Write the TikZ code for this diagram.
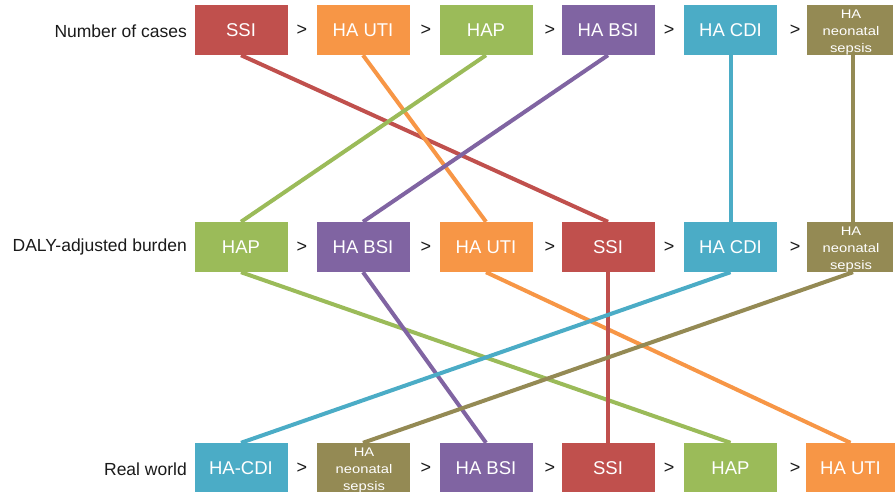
\documentclass[tikz,border=0pt]{standalone}
\usepackage{fontspec}
\setmainfont{Liberation Sans}
\newfontfamily\widesmall[FakeStretch=1.18]{Liberation Sans}
\definecolor{cSSI}{HTML}{C0504D}
\definecolor{cUTI}{HTML}{F79646}
\definecolor{cHAP}{HTML}{9BBB59}
\definecolor{cBSI}{HTML}{8064A2}
\definecolor{cCDI}{HTML}{4BACC6}
\definecolor{cNEO}{HTML}{948A54}
\definecolor{labtxt}{HTML}{1A1A1A}
\tikzset{
  box/.style={rectangle, minimum width=93pt, minimum height=50pt, inner sep=0pt,
    text=white, font=\fontsize{18.5}{22}\selectfont},
  lastbox/.style={box, minimum width=86pt},
  neo/.style={font=\widesmall\fontsize{12.5}{17}\selectfont, align=center},
  gt/.style={inner sep=0pt, text=labtxt, font=\fontsize{18}{20}\selectfont},
  rowlab/.style={anchor=east, inner sep=0pt, text=labtxt, font=\fontsize{17.5}{20}\selectfont},
  conn/.style={line width=4pt}
}
\begin{document}
\begin{tikzpicture}[x=1pt,y=-1pt]
\useasboundingbox (0,0) rectangle (895,492);
% row labels
\node[rowlab] (l1) at (187,31) {Number of cases};
\node[rowlab] (l2) at (187,247) {DALY-adjusted burden};
\node[rowlab] (l3) at (187,469) {Real world};
% row 1
\node[box, fill=cSSI] (a1) at (241,30) {SSI};
\node[box, fill=cUTI] (a2) at (363,30) {HA UTI};
\node[box, fill=cHAP] (a3) at (486,30) {HAP};
\node[box, fill=cBSI] (a4) at (608,30) {HA BSI};
\node[box, fill=cCDI] (a5) at (730.5,30) {HA CDI};
\node[lastbox, fill=cNEO] (a6) at (850,30) {};
\node[neo, text=white] (a6t) at (851,32) {HA\\neonatal\\sepsis};
% row 2
\node[box, fill=cHAP] (b1) at (241,247) {HAP};
\node[box, fill=cBSI] (b2) at (363,247) {HA BSI};
\node[box, fill=cUTI] (b3) at (486,247) {HA UTI};
\node[box, fill=cSSI] (b4) at (608,247) {SSI};
\node[box, fill=cCDI] (b5) at (730.5,247) {HA CDI};
\node[lastbox, fill=cNEO] (b6) at (850,247) {};
\node[neo, text=white] (b6t) at (851,249) {HA\\neonatal\\sepsis};
% row 3
\node[box, fill=cCDI] (c1) at (241,468) {HA-CDI};
\node[box, fill=cNEO] (c2) at (363,468) {};
\node[neo, text=white] (c2t) at (364,470) {HA\\neonatal\\sepsis};
\node[box, fill=cBSI] (c3) at (486,468) {HA BSI};
\node[box, fill=cSSI] (c4) at (608,468) {SSI};
\node[box, fill=cHAP] (c5) at (730.5,468) {HAP};
\node[box, fill=cUTI, minimum width=89pt] (c6) at (850.5,468) {HA UTI};
% greater-than signs
\foreach \r/\y in {1/30, 2/247, 3/468}{
  \node[gt] (g\r a) at (302,\y) {>};
  \node[gt] (g\r b) at (426,\y) {>};
  \node[gt] (g\r c) at (550,\y) {>};
  \node[gt] (g\r d) at (669,\y) {>};
  \node[gt] (g\r e) at (795,\y) {>};
}
% connectors row1 -> row2
\draw[conn, cSSI] (a1.south) -- (b4.north);
\draw[conn, cUTI] (a2.south) -- (b3.north);
\draw[conn, cHAP] (a3.south) -- (b1.north);
\draw[conn, cBSI] (a4.south) -- (b2.north);
\draw[conn, cCDI] (a5.south) -- (b5.north);
\draw[conn, cNEO] ([xshift=3pt]a6.south) -- ([xshift=3pt]b6.north);
% connectors row2 -> row3
\draw[conn, cHAP] (b1.south) -- (c5.north);
\draw[conn, cBSI] (b2.south) -- (c3.north);
\draw[conn, cUTI] (b3.south) -- (c6.north);
\draw[conn, cSSI] (b4.south) -- (c4.north);
\draw[conn, cCDI] (b5.south) -- (c1.north);
\draw[conn, cNEO] ([xshift=3pt]b6.south) -- (c2.north);
\end{tikzpicture}
\end{document}
